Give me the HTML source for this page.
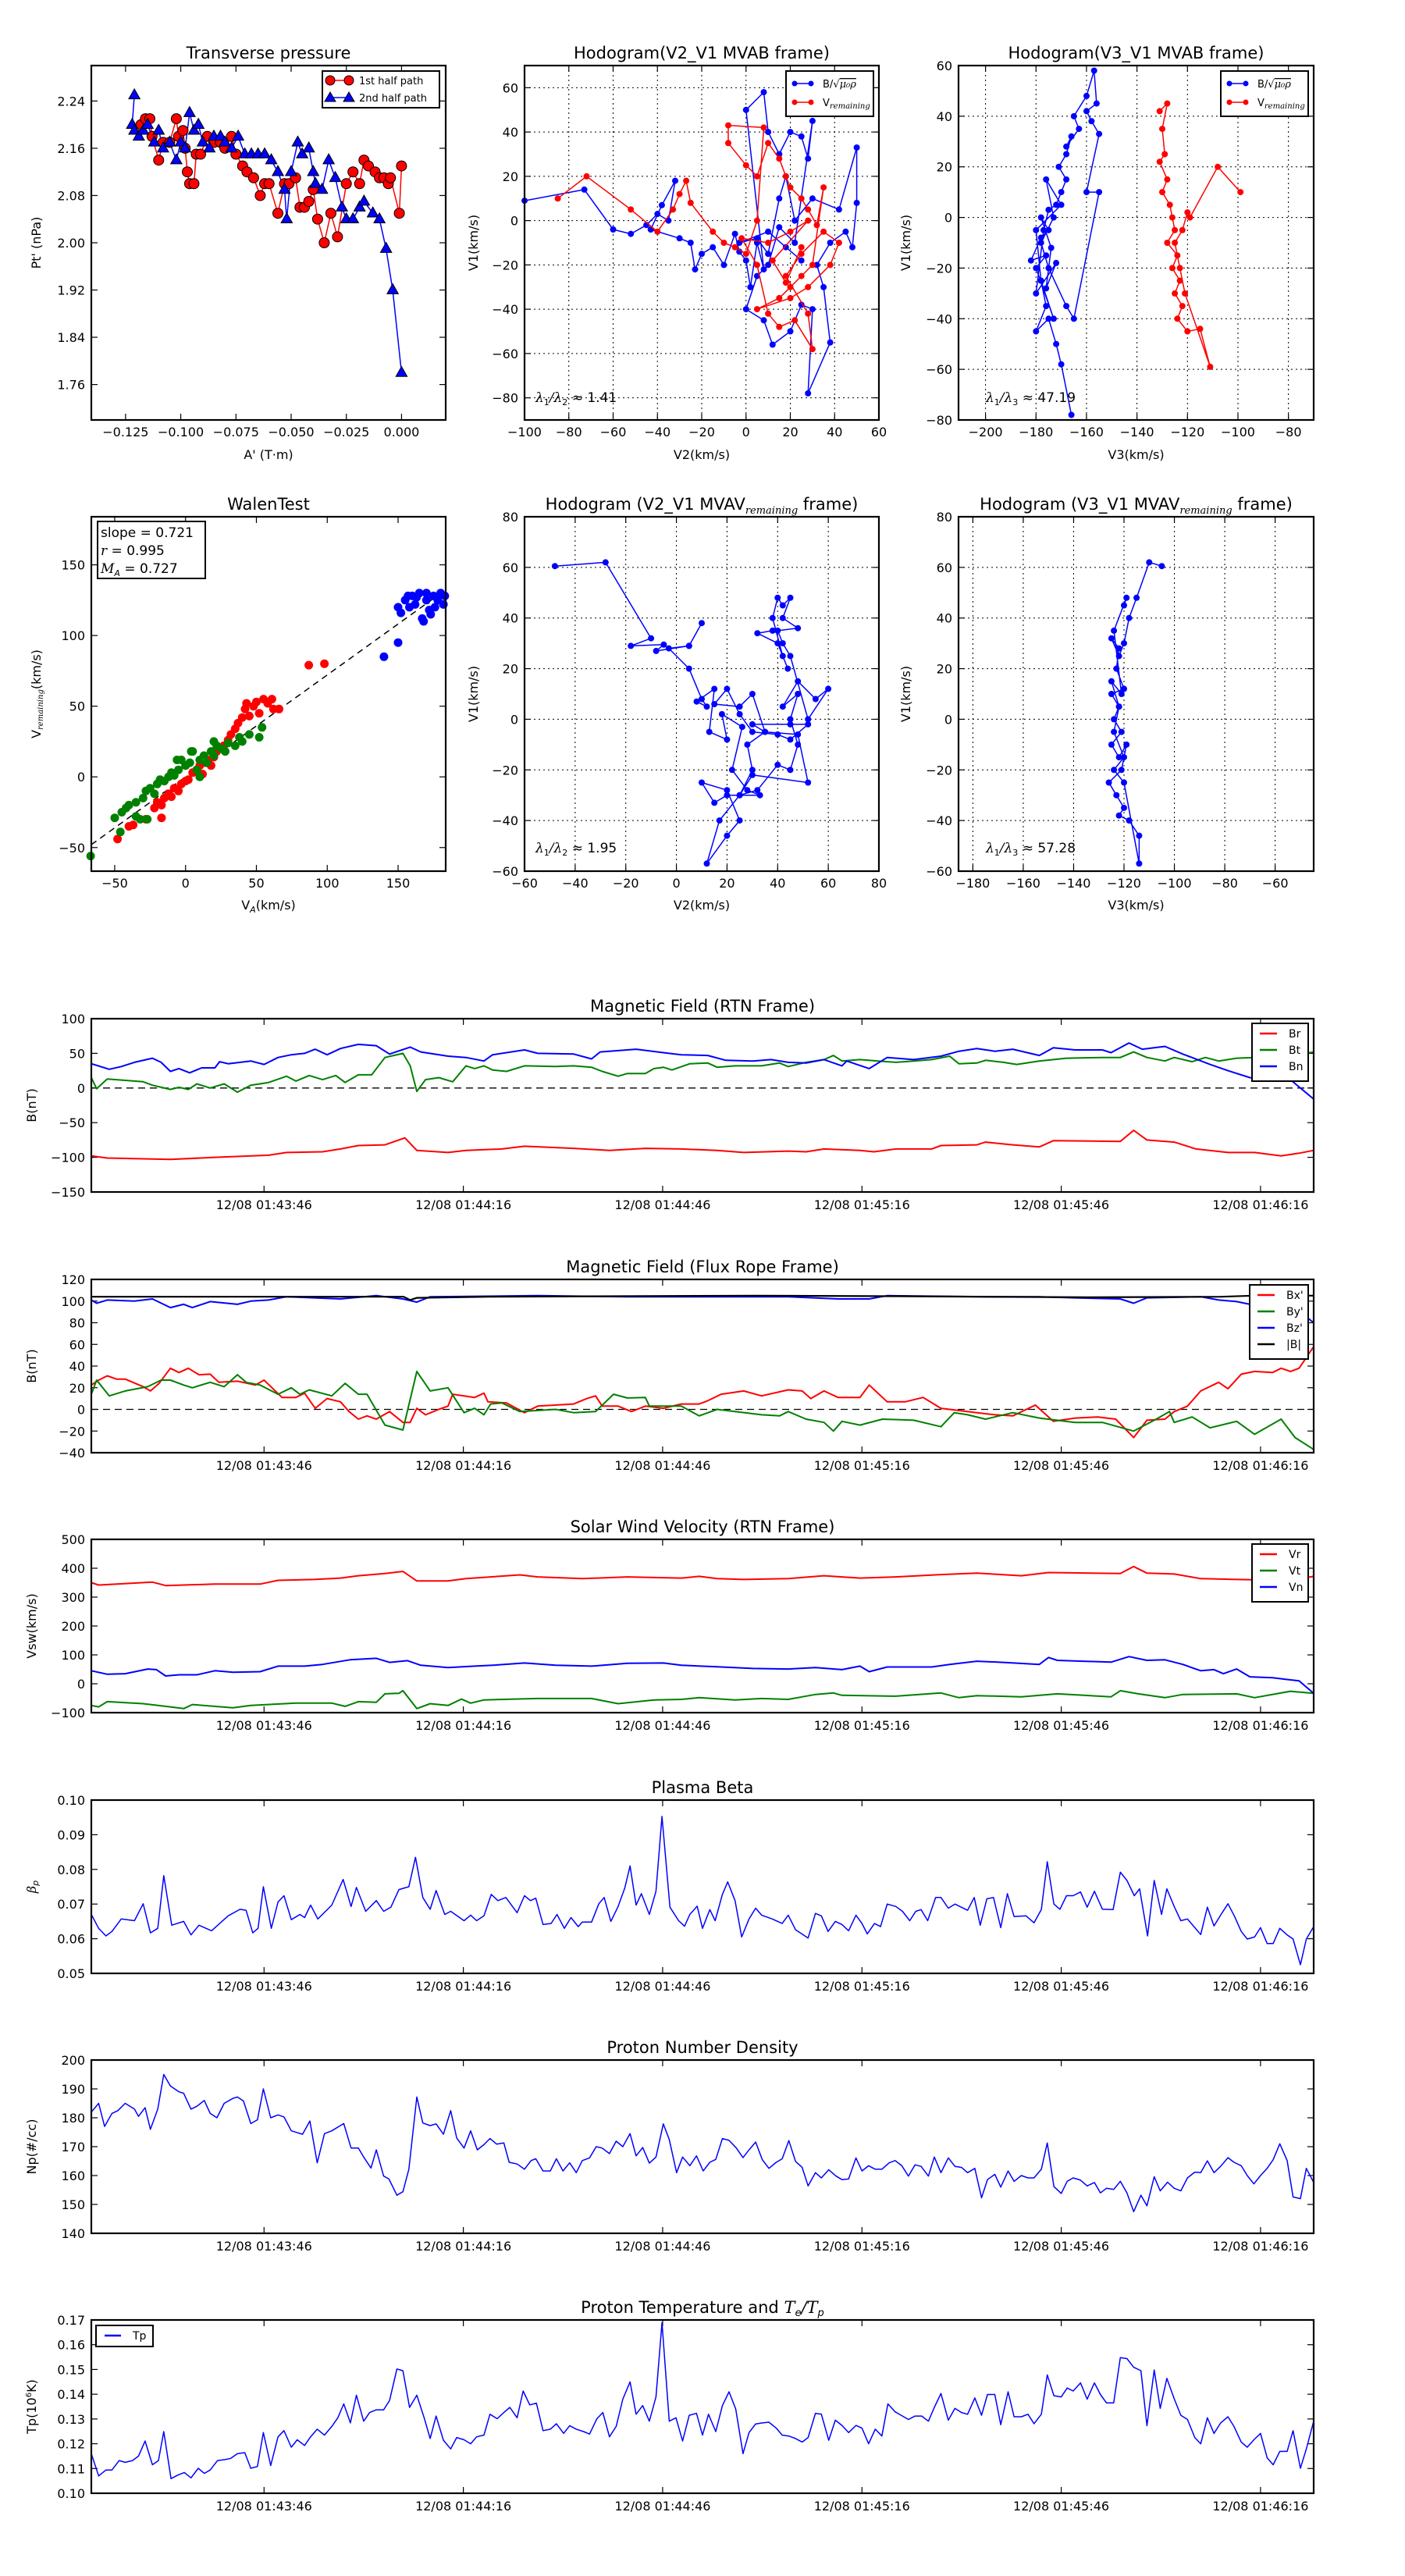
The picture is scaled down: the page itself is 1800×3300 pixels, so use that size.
<!DOCTYPE html>
<html><head><meta charset="utf-8"><title>Flux rope analysis</title>
<style>
html,body{margin:0;padding:0;background:#fff;}
svg{display:block;font-family:"DejaVu Sans","Liberation Sans",sans-serif;}
</style></head>
<body>
<svg id="fig" width="1800" height="3300" viewBox="0 0 1800 3300" xmlns="http://www.w3.org/2000/svg">
<rect x="0" y="0" width="1800" height="3300" fill="#fff"/>
</svg>
<script>
// ---------------- DATA: Transverse pressure ----------------
const ptRedX=[-0.118,-0.116,-0.114,-0.113,-0.110,-0.108,-0.105,-0.102,-0.101,-0.099,-0.098,-0.097,-0.096,-0.094,-0.093,-0.091,-0.088,-0.085,-0.082,-0.080,-0.077,-0.075,-0.072,-0.070,-0.067,-0.064,-0.062,-0.060,-0.056,-0.053,-0.051,-0.048,-0.046,-0.044,-0.042,-0.040,-0.038,-0.035,-0.032,-0.029,-0.025,-0.022,-0.019,-0.017,-0.015,-0.012,-0.010,-0.008,-0.006,-0.005,-0.001,0.000];
const ptRedY=[2.20,2.21,2.21,2.18,2.14,2.17,2.17,2.21,2.18,2.19,2.16,2.12,2.10,2.10,2.15,2.15,2.18,2.17,2.17,2.16,2.18,2.15,2.13,2.12,2.11,2.08,2.10,2.10,2.05,2.10,2.10,2.11,2.06,2.06,2.07,2.09,2.04,2.00,2.05,2.01,2.10,2.12,2.10,2.14,2.13,2.12,2.11,2.11,2.10,2.11,2.05,2.13];
const ptBlueX=[-0.121,-0.122,-0.121,-0.119,-0.117,-0.115,-0.112,-0.110,-0.108,-0.105,-0.102,-0.100,-0.098,-0.096,-0.094,-0.092,-0.090,-0.087,-0.085,-0.082,-0.080,-0.077,-0.074,-0.071,-0.068,-0.065,-0.062,-0.059,-0.056,-0.053,-0.052,-0.050,-0.047,-0.045,-0.042,-0.040,-0.039,-0.036,-0.033,-0.030,-0.027,-0.025,-0.022,-0.019,-0.017,-0.013,-0.010,-0.007,-0.004,0.000];
const ptBlueY=[2.25,2.20,2.19,2.18,2.19,2.20,2.17,2.19,2.16,2.17,2.14,2.17,2.16,2.22,2.19,2.20,2.17,2.16,2.18,2.18,2.17,2.16,2.18,2.15,2.15,2.15,2.15,2.14,2.12,2.09,2.04,2.12,2.17,2.15,2.16,2.12,2.10,2.09,2.14,2.11,2.06,2.04,2.04,2.06,2.07,2.05,2.04,1.99,1.92,1.78];
// ---------------- DATA: Hodogram V2-V1 MVAB ----------------
const h1BlueX=[-100,-73,-60,-52,-45,-40,-35,-32,-38,-43,-30,-25,-23,-20,-15,-10,-5,-3,0,2,5,8,0,8,10,15,20,25,28,30,22,15,10,5,0,8,12,20,25,30,28,38,35,32,38,45,48,50,50,42,30,22,18,15,10,5,-3,10,18,25];
const h1BlueY=[9,14,-4,-6,-2,3,0,18,7,-4,-8,-10,-22,-15,-12,-20,-6,-14,-18,-30,-10,-22,50,58,40,30,40,38,28,45,-10,-3,-20,-25,-40,-45,-56,-50,-38,-40,-78,-55,-30,-20,-10,-5,-12,8,33,5,10,0,20,10,-15,-8,-10,-5,-12,-18];
const h1RedX=[-85,-72,-52,-40,-33,-30,-27,-25,-15,-10,-5,0,5,8,-8,-8,0,5,10,15,18,20,25,28,32,35,30,25,20,15,5,20,28,38,42,35,25,18,28,30,22,15,10,5,-2,10,20,28,12,18,25];
const h1RedY=[10,20,5,-5,5,12,18,8,-5,-10,-12,-15,0,42,43,35,25,20,35,28,20,15,10,5,-2,15,-20,-25,-30,-35,-40,-35,-30,-20,-10,-5,-15,-25,-42,-58,-45,-48,-42,-20,-8,-10,-5,0,-18,-28,-12];
// ---------------- DATA: Hodogram V3-V1 MVAB ----------------
const h2BlueX=[-166,-170,-172,-175,-180,-176,-178,-173,-180,-176,-182,-178,-175,-178,-174,-176,-172,-180,-177,-175,-172,-170,-168,-171,-168,-166,-168,-163,-165,-160,-157,-156,-160,-158,-155,-160,-155,-165,-168,-175,-178,-173,-176,-170,-180,-178];
const h2BlueY=[-78,-58,-50,-40,-45,-35,-25,-40,-20,-15,-17,-8,-5,0,-12,-28,-18,-30,-5,3,5,10,15,20,25,32,28,35,40,48,58,45,42,38,33,10,10,-40,-35,-20,-10,0,15,5,-5,-25];
const h2RedX=[-131,-128,-130,-129,-131,-128,-130,-127,-126,-125,-128,-124,-126,-123,-125,-122,-124,-120,-115,-111,-121,-123,-125,-122,-120,-119,-108,-99];
const h2RedY=[42,45,35,25,22,15,10,5,0,-5,-10,-15,-20,-25,-30,-35,-40,-45,-44,-59,-30,-20,-10,-5,2,0,20,10];
// ---------------- DATA: Walen test ----------------
const walRedX=[-48,-40,-37,-28,-22,-20,-17,-17,-15,-12,-10,-8,-5,-3,0,2,5,8,10,12,14,16,18,20,22,25,27,30,32,35,37,40,42,43,45,48,50,52,55,58,61,62,66,87,98];
const walRedY=[-44,-35,-34,-30,-22,-18,-20,-29,-15,-12,-14,-8,-10,-5,-3,-2,3,5,8,2,10,12,8,14,18,20,22,26,30,34,38,42,48,52,43,50,53,45,55,52,55,48,48,79,80];
const walGreenX=[-67,-50,-46,-45,-42,-40,-35,-35,-32,-30,-27,-28,-25,-22,-20,-18,-15,-12,-10,-8,-6,-5,-3,0,3,4,5,8,10,10,13,15,18,20,20,22,25,28,30,35,38,40,45,52,54];
const walGreenY=[-56,-29,-39,-25,-22,-20,-28,-18,-30,-15,-30,-10,-8,-12,-5,-2,-3,0,3,1,12,5,12,8,10,18,18,5,12,0,15,10,18,15,25,22,20,18,24,22,28,25,30,28,35];
const walBlueX=[140,150,150,152,155,157,158,160,162,163,165,167,168,170,170,172,173,175,176,178,180,182,183];
const walBlueY=[85,95,120,116,125,128,120,128,122,127,130,112,110,125,130,118,115,128,120,125,130,122,128];
// ---------------- DATA: Hodograms MVAV ----------------
const h3X=[-48,-28,-10,-18,-5,-8,5,10,5,-3,5,10,12,8,15,13,20,18,26,22,28,33,20,15,10,20,25,20,12,17,25,30,28,35,30,45,52,45,40,30,25,20,15,25,30,35,48,52,30,25,32,40,45,48,45,48,42,48,55,60,52,45,42,40,48,42,45,42,40,38,42,44,40,32,38];
const h3Y=[60.5,62,32,29,29.5,27,29,38,29,28,20,8,5,7,12,-5,-8,2,-3,-20,-28,-30,-30,-33,-25,-28,-40,-46,-57,-40,-30,-20,-10,-5,-2,-2,-2,-8,-6,-5,2,12,6,5,10,-5,-6,-25,-22,-30,-28,-18,-20,-10,0,10,5,15,8,12,0,25,30,35,36,40,48,45,48,40,25,20,30,34,35];
const h4X=[-105,-110,-115,-118,-120,-122,-125,-122,-123,-120,-125,-122,-124,-121,-125,-122,-119,-121,-126,-123,-120,-122,-118,-114,-114,-120,-124,-120,-124,-122,-125,-121,-124,-119,-120];
const h4Y=[60.5,62,48,40,30,25,32,28,20,12,10,5,0,-5,-10,-15,-10,-20,-25,-30,-35,-38,-40,-46,-57,-25,-20,-15,-5,5,15,10,35,48,45];
// ---------------- DATA: time series (t in s after 12/08 01:43:20) ----------------
const timeTickT=[26,56,86,116,146,176];
const timeTickLabels=["12/08 01:43:46","12/08 01:44:16","12/08 01:44:46","12/08 01:45:16","12/08 01:45:46","12/08 01:46:16"];
const brT=[0,2.4,11.9,18.6,26.7,29.4,34.8,37.5,40.2,44.2,47.2,49.0,53.7,56.4,61.8,65.2,72.6,78.0,83.4,88.8,94.2,98.2,104.9,107.6,110.3,115.7,117.8,121.1,126.5,127.9,133.3,134.6,138.7,142.7,144.8,154.9,156.9,158.9,163.0,166.3,171.1,175.1,179.1,181.8,184];
const brV=[-98,-101,-103,-100,-97,-93,-92,-88,-83,-82,-72,-90,-93,-90,-88,-84,-87,-90,-87,-88,-90,-93,-91,-92,-88,-90,-92,-88,-88,-83,-82,-78,-82,-85,-76,-77,-61,-75,-78,-88,-93,-93,-98,-94,-90];
const btT=[0,0.8,2.4,7.8,9.2,11.9,13.2,14.6,15.9,17.9,20.0,22.0,24.0,26.7,29.4,30.8,32.8,34.8,36.8,38.2,40.2,42.2,44.2,46.9,48.0,49.0,50.3,52.3,54.4,56.4,57.7,59.1,60.4,62.5,65.2,69.9,72.6,75.3,76.9,79.3,80.7,83.4,84.7,86.1,87.4,90.1,92.8,94.2,96.9,100.9,103.6,104.9,107.6,110.3,111.7,113.0,115.7,118.4,121.1,123.8,126.5,129.2,130.6,133.3,134.6,137.3,139.3,142.7,146.8,152.2,154.9,156.9,158.9,161.6,163.0,165.7,167.7,169.7,172.4,175.1,180.5,184];
const btV=[15,-1,13,9,4,-2,1,-2,6,0,6,-6,4,8,17,10,18,12,18,8,19,19,44,50,32,-5,12,15,9,32,28,32,26,24,32,31,32,30,24,17,21,21,28,30,26,35,36,30,32,32,36,31,37,41,47,39,41,39,37,39,41,46,35,36,40,37,34,39,43,44,44,52,44,39,44,38,44,39,43,44,46,52];
const bnT=[0,2.7,4.5,6.5,9.2,10.5,11.9,13.2,14.8,16.6,18.6,19.3,20.6,24.0,26.0,28.1,30.1,32.1,33.7,35.5,37.5,40.2,42.9,44.9,48.0,49.6,53.7,56.4,59.1,60.4,65.2,67.2,72.6,75.3,76.6,82.0,86.1,88.8,92.8,95.5,99.6,102.3,104.9,107.6,110.3,113.0,113.7,117.1,119.8,123.8,127.9,130.6,133.3,136.0,138.7,142.7,144.8,148.1,152.2,153.5,156.2,158.2,161.6,164.3,168.4,171.1,174.4,180.5,184];
const bnV=[35,27,31,37,43,37,24,28,22,29,29,38,35,39,34,44,48,50,56,48,57,63,61,49,59,52,46,44,39,48,55,50,49,42,52,56,51,48,47,40,39,41,37,36,41,32,39,28,44,41,46,53,57,53,56,47,58,55,55,51,65,56,60,49,34,25,15,12,-16];
const bmagT=[0,20,47,48,49,60,100,120,150,170,175,180,184];
const bmagV=[104,104,104,101,103,104,105,104.5,103.5,104,105,105,105];
const bzT=[0,0.8,2.4,6.5,9.2,11.9,13.9,15.2,17.9,22.0,24.0,26.7,29.4,37.5,42.9,46.9,49.0,51.0,67.2,80.7,104.9,112.4,117.1,119.8,134.6,142.7,148.1,154.9,156.9,158.9,167.0,169.7,172.4,174.4,180.5,184];
const bzV=[101,98,101,100,102,94,97,94,99.5,97,100,101,104,102,105,102,99,104,105,104,104,102,102,105,104,104,103,102,98,103,104,101,99.5,97,97,80];
const bxT=[0,1.1,2.4,3.8,5.1,7.8,8.9,10.2,11.9,13.2,14.6,16.2,17.9,19.2,22.0,24.7,26.0,28.7,30.8,32.1,33.7,35.5,37.5,38.8,40.2,41.5,42.9,44.9,46.9,48.0,49.0,50.3,52.3,53.7,54.4,57.7,59.1,59.7,62.5,65.2,67.2,72.6,74.6,75.9,76.9,79.3,81.3,83.4,86.1,88.8,91.5,92.8,94.8,98.2,100.9,104.9,107.0,108.3,110.3,112.4,115.7,117.1,119.8,122.5,125.2,127.9,133.3,136.0,138.7,142.1,144.8,148.1,151.5,154.2,156.9,158.9,161.6,163.0,165.0,167.0,169.7,171.1,173.1,175.1,177.8,179.1,180.5,181.8,184];
const bxV=[22.5,27,31,28,28,21,17,24,38,34,38,32,32.5,25,26,22.5,27,11,11,15,1,10,7,-2,-9,-6,-9,-2,-12,-12,1,-5,0,3,14,11,15,7,6,-3,3,5,10,12.5,3,3,-2,3,1,5,5,8,14,17,12.5,18,17,10,17,11,11,22.5,7,7,11,1,-3,-5,-6,4,-11,-8,-7,-9,-26,-10,-9,-2,3,17,25,19,32.5,35,34,38,35,38,58];
const byT=[0,0.8,2.7,5.1,8.5,10.5,11.9,13.9,15.2,17.9,20.0,22.0,23.3,25.4,28.1,30.1,31.4,32.8,36.2,38.2,40.2,41.5,44.2,46.9,49.0,51.0,53.7,56.1,57.7,59.1,60.1,61.8,64.5,69.9,72.6,75.9,78.6,80.7,83.4,84.0,88.8,91.5,94.2,96.9,100.9,103.6,104.9,107.6,110.3,111.7,113.0,115.7,119.1,123.8,127.9,129.9,131.9,134.6,138.7,142.7,148.1,152.2,156.9,160.3,162.3,163.0,165.7,168.4,172.4,175.1,179.1,181.2,184];
const byV=[14,27,12.5,17,21,27,27,22.5,20,25,21,32,25,22.5,14,20,14,18,12.5,24,14,14,-14.5,-19,35,17,20,-3,1,-5,5,6,-2,0,-3,-2,14,10.5,11,3,3,-6,0,-2,-5,-6,-2,-9,-12,-20,-11,-14.5,-9,-10,-16,-3,-5,-9,-3,-8,-12,-12,-20,-9,-2,-12,-7,-17,-11,-23,-9,-26,-37];
const vrT=[0,1.1,9.2,11.2,18.6,25.4,28.1,33.5,37.5,40.2,44.2,46.9,49.0,53.7,56.4,64.5,67.2,73.9,80.7,88.8,91.5,94.2,98.2,104.9,110.3,115.7,121.1,127.9,133.3,140.0,144.1,154.9,156.9,158.9,163.0,167.0,172.4,180.5,184];
const vrV=[350,342,352,340,345,345,358,361,366,374,382,389,356,356,364,377,370,364,370,366,372,364,361,364,374,366,370,378,383,374,385,382,406,383,380,364,361,358,372];
const vtT=[0,1.1,2.4,7.8,11.9,13.9,15.2,21.3,24.0,30.8,36.2,38.2,40.2,42.9,44.2,46.3,46.9,49.0,51.0,53.7,55.7,57.1,59.1,67.2,75.3,79.3,84.7,88.8,91.5,96.9,100.9,104.9,109.0,111.7,113.0,121.1,127.9,130.6,133.3,140.0,145.4,153.5,154.9,157.6,161.6,164.3,172.4,175.1,180.5,184];
const vtV=[-75,-80,-62,-69,-80,-86,-72,-83,-75,-67,-67,-78,-62,-64,-35,-33,-24,-86,-69,-75,-53,-67,-56,-51,-51,-69,-56,-54,-48,-56,-51,-54,-37,-32,-40,-43,-32,-48,-41,-45,-35,-45,-24,-35,-48,-37,-35,-48,-26,-33];
const vnT=[0,2.4,5.1,8.5,9.8,11.2,13.2,15.9,18.6,21.3,25.4,28.1,32.1,34.8,38.9,42.9,44.9,47.6,49.6,53.7,57.7,60.4,65.2,69.9,75.3,80.7,86.1,88.8,94.2,99.6,104.9,109.0,113.0,115.7,117.1,119.8,126.5,129.2,133.3,137.3,142.7,144.1,145.4,153.5,156.2,158.9,161.6,164.3,167.0,169.0,170.4,172.4,174.4,177.8,181.8,184];
const vnV=[45,33,35,51,49,27,31,31,45,40,42,61,61,67,83,88,74,80,64,56,61,64,72,64,61,71,72,64,59,53,51,56,49,61,42,58,58,67,78,74,67,91,81,75,94,81,83,67,45,49,35,51,24,21,10,-33];
const betaT=[0,1.1,2.2,3.1,4.5,6.5,7.8,8.9,10,10.9,12.1,13.9,15,16.2,18.1,20.6,22.4,23.3,24.3,25.1,25.9,27.1,28.1,29,30.1,31.4,32.1,33,34.1,36.2,37.9,39.1,39.9,41.3,42.9,44,45.1,46.3,47.8,48.8,49.9,51,51.9,53.2,54.1,56.1,57.1,58,59.1,60.2,61.2,62.4,64.1,65.2,66.1,66.9,68,69.2,70.1,71.2,72.2,73.3,73.9,75.3,76.4,77.2,78.2,79.3,80.3,81.1,82,82.8,84,85,85.9,87.1,88.4,89.3,90.1,91.2,92,93.1,93.9,95,95.8,96.9,97.9,99,100,100.9,102.5,104,104.9,106,107.9,109,109.9,110.9,112,113,114,115.1,116,116.8,117.9,118.8,119.8,121.1,122.1,123.2,124.1,124.9,125.9,127.1,127.9,129,130,131.9,132.9,133.8,134.8,135.8,136.9,137.9,138.9,140.7,141.9,143,143.9,144.9,145.8,146.8,147.8,148.9,149.9,151,152.2,153.8,154.9,155.9,157,157.8,159,160,161.1,161.9,163,164,165,166.1,167,168,169,170,171.1,172.1,173.1,174,175.1,176,177,177.9,178.9,180,180.9,182,182.9,184];
const betaV=[0.0670,0.0630,0.0608,0.0621,0.0657,0.0652,0.0701,0.0617,0.0630,0.0782,0.0639,0.0650,0.0611,0.0639,0.0623,0.0666,0.0685,0.0682,0.0617,0.0630,0.0750,0.0630,0.0706,0.0724,0.0655,0.0670,0.0661,0.0697,0.0657,0.0697,0.0771,0.0693,0.0748,0.0679,0.0710,0.0679,0.0691,0.0742,0.0750,0.0835,0.0719,0.0685,0.0739,0.0670,0.0679,0.0652,0.0668,0.0652,0.0666,0.0728,0.0710,0.0719,0.0675,0.0724,0.0710,0.0717,0.0641,0.0644,0.0670,0.0630,0.0661,0.0635,0.0648,0.0648,0.0701,0.0719,0.0650,0.0693,0.0746,0.0810,0.0697,0.0730,0.0670,0.0737,0.0953,0.0691,0.0652,0.0636,0.0670,0.0694,0.0630,0.0684,0.0652,0.0728,0.0764,0.0710,0.0605,0.0657,0.0688,0.0668,0.0657,0.0644,0.0668,0.0626,0.0602,0.0673,0.0666,0.0621,0.0650,0.0641,0.0623,0.0668,0.0644,0.0614,0.0644,0.0635,0.0700,0.0693,0.0679,0.0652,0.0679,0.0684,0.0652,0.0719,0.0719,0.0688,0.0700,0.0682,0.0719,0.0639,0.0715,0.0719,0.0632,0.0730,0.0664,0.0666,0.0646,0.0684,0.0822,0.0700,0.0685,0.0724,0.0724,0.0735,0.0691,0.0737,0.0685,0.0684,0.0792,0.0768,0.0724,0.0744,0.0608,0.0768,0.0670,0.0744,0.0693,0.0652,0.0657,0.0632,0.0612,0.0691,0.0637,0.0668,0.0701,0.0664,0.0621,0.0599,0.0605,0.0632,0.0586,0.0586,0.0630,0.0611,0.0599,0.0525,0.0599,0.0635];
const npT=[0,1.1,2.0,3.1,4.0,5.1,6.5,7.1,8.1,8.9,10,10.9,11.9,13.2,13.9,15,15.9,17,17.9,18.9,20,21.3,22,22.9,24,25,25.9,27,28.1,29,30.1,31.8,32.9,34,35.1,36.2,38,39.1,40.2,41,42.1,42.9,44,44.8,46,46.9,47.8,49,49.9,51,51.9,53,54.1,55,56.1,57.1,58.1,59.1,60,61,62.1,62.9,64.1,65.2,66.2,66.9,68,69.1,70,71,72,73,73.9,75,76,76.9,78,79,80,81.1,82,83,84,85,86.1,87,88.1,89,90.1,91.1,92.1,93.1,94,95,96,97.1,98.1,99,100,101,102,103.1,104,105,106,107,107.9,109,109.9,111,112.1,113,114,115.1,116,117,118,119,120.1,121,122,123,124,124.9,126,126.9,127.9,129,130,131,131.9,133,134,134.9,136,136.9,138,138.9,140,141,141.9,143,143.9,144.9,146,146.9,147.8,148.9,149.9,151,151.9,152.8,153.9,154.9,155.9,156.9,158,158.9,160,160.9,162,163,164,165,166.1,167,168,169,170,171.1,172,173.1,174,175,176,177,177.9,178.9,180,180.9,182,182.9,184];
const npV=[182,185,177,181.5,182.5,185,183,180.5,183.5,176,183,195,191,189,188.5,183,184,186,181.5,180,185,186.7,187.2,185.8,178,179.3,190,180,181,180.3,175.5,174.3,178.9,164.4,174.5,175.5,178,169.5,169.5,166.4,162.6,168.9,159.8,158.8,153.2,154.4,162.2,187.2,178.2,177.3,177.9,174.3,182.5,173,169.5,175.5,168.9,170.7,172.8,170.9,171.3,164.6,164,162.2,165.2,165.8,161.6,161.6,165.8,161.6,164.4,161,165.2,166.1,170,169.5,167.6,171.9,170,174.5,166.8,169.7,164.3,166.4,177.9,172.5,161,166.4,163.4,166.8,161.6,164.6,165.6,172.8,172.2,169.5,166.2,168.9,171.6,165.5,162.5,164.6,165.8,172.1,164.9,162.8,156.4,161,159.2,162,159.8,158.6,158.8,166.1,161.6,163.4,162.2,162.2,164.4,165.2,163.4,159.8,163.7,163.2,159.8,166.4,161,166.1,163.2,162.8,161,162.5,152.3,158.6,160.4,156,161.6,158,160,159.2,159.2,162.2,171.3,156.2,153.8,158,159.2,158.4,156.4,157.6,154,155.6,155.2,158,154,147.5,153.2,149.5,159.6,154.7,157.7,155.6,154.7,159.2,161.2,161,165.1,161,163.2,166.2,164.6,163.4,160,157.1,160,162.5,165.5,171,165.2,152.6,152,162.5,157.6];
const tpT=[0,1.1,2.2,3.1,4.2,5.1,6.2,7.1,8.1,9.2,10.1,10.9,12,13,14,15,16.1,17,17.9,19,20.1,21,22,23.1,24,25,25.9,27,28.1,29,30.1,31,32.1,33,34,35.1,36.2,37.1,38,39,39.9,41,41.9,42.9,44,44.9,46,46.9,47.9,49,50.1,51,51.9,53,54.1,55,56.1,57.1,58,59.1,60,61.1,62.1,63,64.1,65,66,67,68,69.1,70,71.1,72,73,74.1,75,76.1,77,78,79,80,81.1,82,83,84,85,85.9,87,88,89,90,91.1,92,92.9,94,95,96,97,98.1,99,100,101,102,103.1,104,105,106,107,107.9,109,109.9,111,112,113,114,115.1,116,117,118,119,119.9,121,121.9,123,124,125,126,126.9,127.9,129,130,131,131.9,133,134,134.9,136,136.9,138,138.9,140,141,141.9,143,143.9,144.9,146,146.9,147.8,148.9,149.9,151,151.9,152.8,153.9,154.9,155.9,156.9,158,158.9,160,160.9,161.9,163,164,165,166.1,167,168,169,170,171.1,172,173.1,174,175,176,177,177.9,178.9,180,180.9,182,182.9,184];
const tpV=[0.116,0.107,0.1094,0.1094,0.1132,0.1125,0.1132,0.115,0.1211,0.1115,0.1132,0.1249,0.1059,0.1073,0.1084,0.1062,0.1101,0.108,0.1094,0.1132,0.1136,0.1141,0.116,0.1164,0.1101,0.1108,0.1245,0.1112,0.1228,0.1253,0.1186,0.1216,0.1193,0.1228,0.1259,0.1235,0.127,0.1305,0.1361,0.1284,0.1396,0.1291,0.1326,0.1337,0.1337,0.1375,0.1502,0.1495,0.1347,0.1396,0.1305,0.1221,0.1312,0.1214,0.1179,0.1225,0.1216,0.12,0.1228,0.1235,0.1319,0.1301,0.1326,0.1347,0.1305,0.1413,0.1357,0.1364,0.1253,0.1259,0.1281,0.1242,0.1273,0.1259,0.1249,0.1239,0.1301,0.1326,0.1228,0.127,0.138,0.145,0.1319,0.1354,0.1291,0.1389,0.1689,0.1291,0.1305,0.1211,0.1315,0.1323,0.1235,0.1319,0.1249,0.1354,0.141,0.134,0.116,0.1245,0.128,0.1284,0.1287,0.1263,0.1235,0.1231,0.1221,0.1207,0.1225,0.1323,0.1319,0.1214,0.1295,0.1274,0.1245,0.1274,0.1263,0.12,0.1259,0.1231,0.1361,0.1329,0.1315,0.1298,0.1312,0.1312,0.1291,0.1347,0.1403,0.1295,0.1343,0.1326,0.1319,0.1385,0.1315,0.1399,0.1399,0.1277,0.141,0.1309,0.1309,0.1319,0.1281,0.1319,0.1478,0.1394,0.1389,0.1425,0.1413,0.1446,0.138,0.1446,0.1399,0.1365,0.1365,0.1548,0.1544,0.1509,0.1495,0.1273,0.1498,0.1343,0.1464,0.1382,0.1315,0.1298,0.1225,0.12,0.1305,0.1242,0.1284,0.1309,0.127,0.1207,0.1186,0.1216,0.1242,0.1143,0.1115,0.1169,0.1169,0.1253,0.1101,0.1179,0.1291];

// ---------------- helpers ----------------
const NS='http://www.w3.org/2000/svg';
const svg=document.getElementById('fig');
function mk(tag,attrs,parent,name,inter){
  const e=document.createElementNS(NS,tag);
  for(const k in attrs){e.setAttribute(k,attrs[k]);}
  
  
  (parent||svg).appendChild(e);
  return e;
}
function txt(x,y,s,size,anchor,parent,name,extra){
  const a={x:x,y:y,'font-size':size,'text-anchor':anchor||'middle',fill:'#000'};
  if(extra){for(const k in extra)a[k]=extra[k];}
  const t=mk('text',a,parent,name,false);
  t.textContent=s;
  return t;
}
function fmtMinus(s){return String(s).replace('-','\u2212');}
function lin(d0,d1,r0,r1){return v=>r0+(v-d0)*(r1-r0)/(d1-d0);}

function axes(o){
  const g=mk('g',{},svg,o.name,false);
  const sx=lin(o.xd[0],o.xd[1],o.x,o.x+o.w);
  const sy=lin(o.yd[0],o.yd[1],o.y+o.h,o.y);
  const gridG=mk('g',{},g,o.name+'-grid',false);
  const tickG=mk('g',{stroke:'#000','stroke-width':1.2},g,o.name+'-ticks',false);
  const labG=mk('g',{},g,o.name+'-tick-labels',false);
  const fs=o.fs||16;
  o.xt.forEach((v,i)=>{
    const X=sx(v);
    if(o.grid){mk('line',{x1:X,y1:o.y,x2:X,y2:o.y+o.h,stroke:'#000','stroke-width':1,'stroke-dasharray':'2,4'},gridG,'x-gridline',false);}
    mk('line',{x1:X,y1:o.y+o.h,x2:X,y2:o.y+o.h-8},tickG,'x-tick',false);
    mk('line',{x1:X,y1:o.y,x2:X,y2:o.y+8},tickG,'x-tick',false);
    if(o.xl) txt(X,o.y+o.h+(o.xlo||20),o.xl[i],fs,'middle',labG,'x-tick-label');
  });
  o.yt.forEach((v,i)=>{
    const Y=sy(v);
    if(o.grid){mk('line',{x1:o.x,y1:Y,x2:o.x+o.w,y2:Y,stroke:'#000','stroke-width':1,'stroke-dasharray':'2,4'},gridG,'y-gridline',false);}
    mk('line',{x1:o.x,y1:Y,x2:o.x+8,y2:Y},tickG,'y-tick',false);
    mk('line',{x1:o.x+o.w,y1:Y,x2:o.x+o.w-8,y2:Y},tickG,'y-tick',false);
    txt(o.x-8,Y+6,o.yl[i],fs,'end',labG,'y-tick-label');
  });
  const plot=mk('g',{},g,o.name+'-plot-area',false);
  mk('rect',{x:o.x,y:o.y,width:o.w,height:o.h,fill:'none',stroke:'#000','stroke-width':2.2},g,o.name+'-frame',false);
  if(o.title) txt(o.x+o.w/2,o.y-9,o.title,o.tfs||21,'middle',g,'chart-title');
  return {g:g,plot:plot,sx:sx,sy:sy};
}
function polyline(ax,xs,ys,color,w,name,clip){
  const n=Math.min(xs.length,ys.length);
  let p=[];
  for(let i=0;i<n;i++){p.push(ax.sx(xs[i]).toFixed(1)+','+ax.sy(ys[i]).toFixed(1));}
  return mk('polyline',{points:p.join(' '),fill:'none',stroke:color,'stroke-width':w,'stroke-linejoin':'round'},ax.plot,name,false);
}
function dots(ax,xs,ys,color,r,name,stroke){
  const n=Math.min(xs.length,ys.length);
  for(let i=0;i<n;i++){
    const c=mk('circle',{cx:ax.sx(xs[i]).toFixed(1),cy:ax.sy(ys[i]).toFixed(1),r:r,fill:color,stroke:stroke||'none','stroke-width':1},ax.plot,name,false);
  }
}
function tris(ax,xs,ys,color,s,name){
  const n=Math.min(xs.length,ys.length);
  for(let i=0;i<n;i++){
    const X=ax.sx(xs[i]),Y=ax.sy(ys[i]);
    mk('polygon',{points:(X)+','+(Y-s)+' '+(X-s*0.9)+','+(Y+s*0.6)+' '+(X+s*0.9)+','+(Y+s*0.6),fill:color,stroke:'#000','stroke-width':1},ax.plot,name,false);
  }
}
function range(a,b,s){const r=[];for(let v=a;v<=b+1e-9;v+=s)r.push(+v.toFixed(4));return r;}
function ylabel(x,cy,s,parent,name){
  const t=txt(x,cy,'',16,'middle',parent||svg,name,{transform:'rotate(-90 '+x+' '+cy+')'});
  t.textContent=s;return t;
}

// ---------------- Row 1 ----------------
const R1={y:84,h:454};
const C1={x:117,w:454}, C2={x:672,w:454}, C3={x:1228,w:455};

// Transverse pressure
(function(){
  const xt=[-0.125,-0.1,-0.075,-0.05,-0.025,0];
  const xl=['\u22120.125','\u22120.100','\u22120.075','\u22120.050','\u22120.025','0.000'];
  const yt=[1.76,1.84,1.92,2.00,2.08,2.16,2.24];
  const yl=['1.76','1.84','1.92','2.00','2.08','2.16','2.24'];
  const ax=axes({name:'transverse-pressure-chart',x:C1.x,y:R1.y,w:C1.w,h:R1.h,xd:[-0.1405,0.02],yd:[1.70,2.30],xt:xt,xl:xl,yt:yt,yl:yl,title:'Transverse pressure',xlo:21});
  polyline(ax,ptRedX,ptRedY,'#f00',1.5,'first-half-path-line');
  polyline(ax,ptBlueX,ptBlueY,'#00f',1.5,'second-half-path-line');
  dots(ax,ptRedX,ptRedY,'#f00',6.5,'first-half-path-point','#000');
  tris(ax,ptBlueX,ptBlueY,'#00f',8,'second-half-path-point');
  txt(C1.x+C1.w/2,588,"A' (T\u00b7m)",16,'middle',ax.g,'x-axis-title');
  ylabel(52,R1.y+R1.h/2,"Pt' (nPa)",ax.g,'y-axis-title');
  const lg=mk('g',{},ax.g,'legend',false);
  mk('rect',{x:413,y:91,width:150,height:47,fill:'#fff',stroke:'#000','stroke-width':2},lg,'legend-box',false);
  mk('line',{x1:422,y1:103,x2:448,y2:103,stroke:'#f00','stroke-width':1.5},lg,'legend-line-first-half',false);
  mk('circle',{cx:423,cy:103,r:6,fill:'#f00',stroke:'#000'},lg,'legend-marker-first-half',false);
  mk('circle',{cx:447,cy:103,r:6,fill:'#f00',stroke:'#000'},lg,'legend-marker-first-half',false);
  txt(460,108,'1st half path',13,'start',lg,'legend-entry-first-half');
  mk('line',{x1:422,y1:125,x2:448,y2:125,stroke:'#00f','stroke-width':1.5},lg,'legend-line-second-half',false);
  mk('polygon',{points:'423,118 416,130 430,130',fill:'#00f',stroke:'#000'},lg,'legend-marker-second-half',false);
  mk('polygon',{points:'447,118 440,130 454,130',fill:'#00f',stroke:'#000'},lg,'legend-marker-second-half',false);
  txt(460,130,'2nd half path',13,'start',lg,'legend-entry-second-half');
})();

function hodoLegend(parent,x,y,w){
  const lg=mk('g',{},parent,'legend',false);
  mk('rect',{x:x,y:y,width:w,height:58,fill:'#fff',stroke:'#000','stroke-width':2},lg,'legend-box',false);
  mk('line',{x1:x+10,y1:y+16,x2:x+33,y2:y+16,stroke:'#00f','stroke-width':1.5},lg,'legend-line-b',false);
  mk('circle',{cx:x+11,cy:y+16,r:3.5,fill:'#00f'},lg,'legend-marker-b',false);
  mk('circle',{cx:x+32,cy:y+16,r:3.5,fill:'#00f'},lg,'legend-marker-b',false);
  const t1=txt(x+47,y+21,'B/\u221a',13,'start',lg,'legend-entry-b');
  const ts=mk('tspan',{'font-style':'italic','font-family':'DejaVu Serif, serif','text-decoration':'overline'},t1,'legend-entry-b-sqrt',false);
  ts.textContent='\u03bc\u2080\u03c1';
  mk('line',{x1:x+10,y1:y+40,x2:x+33,y2:y+40,stroke:'#f00','stroke-width':1.5},lg,'legend-line-v',false);
  mk('circle',{cx:x+11,cy:y+40,r:3.5,fill:'#f00'},lg,'legend-marker-v',false);
  mk('circle',{cx:x+32,cy:y+40,r:3.5,fill:'#f00'},lg,'legend-marker-v',false);
  const t2=txt(x+47,y+45,'V',13,'start',lg,'legend-entry-v');
  const s2=mk('tspan',{'font-size':10,'font-style':'italic','font-family':'DejaVu Serif, serif',dy:3},t2,'legend-entry-v-sub',false);
  s2.textContent='remaining';
}
function lamText(parent,x,y,a,b,val){
  const t=txt(x,y,'',17,'start',parent,'eigenvalue-ratio-label');
  const s1=mk('tspan',{'font-style':'italic','font-family':'DejaVu Serif, serif'},t,'lambda',false);s1.textContent='\u03bb';
  const s2=mk('tspan',{'font-size':11,dy:4},t,'lambda-sub',false);s2.textContent=a;
  const s3=mk('tspan',{dy:-4,'font-style':'italic','font-family':'DejaVu Serif, serif'},t,'lambda',false);s3.textContent='/\u03bb';
  const s4=mk('tspan',{'font-size':11,dy:4},t,'lambda-sub',false);s4.textContent=b;
  const s5=mk('tspan',{dy:-4},t,'ratio-value',false);s5.textContent=' \u2248 '+val;
}

// Hodogram V2_V1 MVAB
(function(){
  const xt=range(-100,60,20), yt=range(-80,60,20);
  const ax=axes({name:'hodogram-v2-v1-mvab',x:C2.x,y:R1.y,w:C2.w,h:R1.h,xd:[-100,60],yd:[-90,70],xt:xt,xl:xt.map(fmtMinus),yt:yt,yl:yt.map(fmtMinus),grid:true,title:'Hodogram(V2_V1 MVAB frame)',xlo:21});
  polyline(ax,h1BlueX,h1BlueY,'#00f',1.5,'b-alfven-line');
  dots(ax,h1BlueX,h1BlueY,'#00f',4,'b-alfven-point');
  polyline(ax,h1RedX,h1RedY,'#f00',1.5,'v-remaining-line');
  dots(ax,h1RedX,h1RedY,'#f00',4,'v-remaining-point');
  lamText(ax.g,686,515,'1','2','1.41');
  txt(C2.x+C2.w/2,588,'V2(km/s)',16,'middle',ax.g,'x-axis-title');
  ylabel(612,R1.y+R1.h/2,'V1(km/s)',ax.g,'y-axis-title');
  hodoLegend(ax.g,1007,91,112);
})();
// Hodogram V3_V1 MVAB
(function(){
  const xt=range(-200,-80,20), yt=range(-80,60,20);
  const ax=axes({name:'hodogram-v3-v1-mvab',x:C3.x,y:R1.y,w:C3.w,h:R1.h,xd:[-210.7,-70],yd:[-80,60],xt:xt,xl:xt.map(fmtMinus),yt:yt,yl:yt.map(fmtMinus),grid:true,title:'Hodogram(V3_V1 MVAB frame)',xlo:21});
  polyline(ax,h2BlueX,h2BlueY,'#00f',1.5,'b-alfven-line');
  dots(ax,h2BlueX,h2BlueY,'#00f',4,'b-alfven-point');
  polyline(ax,h2RedX,h2RedY,'#f00',1.5,'v-remaining-line');
  dots(ax,h2RedX,h2RedY,'#f00',4,'v-remaining-point');
  lamText(ax.g,1263,515,'1','3','47.19');
  txt(C3.x+C3.w/2,588,'V3(km/s)',16,'middle',ax.g,'x-axis-title');
  ylabel(1166,R1.y+R1.h/2,'V1(km/s)',ax.g,'y-axis-title');
  hodoLegend(ax.g,1564,91,112);
})();

// ---------------- Row 2 ----------------
const R2={y:662,h:454};
(function(){
  const xt=[-50,0,50,100,150], yt=[-50,0,50,100,150];
  const ax=axes({name:'walen-test-chart',x:C1.x,y:R2.y,w:C1.w,h:R2.h,xd:[-66.5,183.6],yd:[-66.7,184],xt:xt,xl:xt.map(fmtMinus),yt:yt,yl:yt.map(fmtMinus),title:'WalenTest',xlo:21});
  const fitX=[-66.5,183.6];
  const slope=0.721;
  mk('line',{x1:ax.sx(fitX[0]),y1:ax.sy(fitX[0]*slope),x2:ax.sx(fitX[1]),y2:ax.sy(fitX[1]*slope),stroke:'#000','stroke-width':1.5,'stroke-dasharray':'8,6'},ax.plot,'regression-line',false);
  dots(ax,walRedX,walRedY,'#f00',5.5,'walen-point-red');
  dots(ax,walGreenX,walGreenY,'#008000',5.5,'walen-point-green');
  dots(ax,walBlueX,walBlueY,'#00f',5.5,'walen-point-blue');
  const box=mk('g',{},ax.g,'fit-stats-box',false);
  mk('rect',{x:125,y:668,width:138,height:73,fill:'#fff',stroke:'#000','stroke-width':2},box,'fit-stats-frame',false);
  txt(129,688,'slope = 0.721',17,'start',box,'slope-label');
  const t2=txt(129,711,'',17,'start',box,'r-label');
  const a=mk('tspan',{'font-style':'italic','font-family':'DejaVu Serif, serif'},t2,'r-symbol',false);a.textContent='r';
  const b=mk('tspan',{},t2,'r-value',false);b.textContent=' = 0.995';
  const t3=txt(129,734,'',17,'start',box,'alfven-mach-label');
  const c=mk('tspan',{'font-style':'italic','font-family':'DejaVu Serif, serif'},t3,'ma-symbol',false);c.textContent='M';
  const d=mk('tspan',{'font-size':11,dy:4,'font-style':'italic'},t3,'ma-sub',false);d.textContent='A';
  const e=mk('tspan',{dy:-4},t3,'ma-value',false);e.textContent=' = 0.727';
  const xl=txt(C1.x+C1.w/2,1165,'V',16,'middle',ax.g,'x-axis-title');
  const xs=mk('tspan',{'font-size':11,dy:4,'font-style':'italic'},xl,'x-axis-title-sub',false);xs.textContent='A';
  const xs2=mk('tspan',{dy:-4},xl,'x-axis-title-unit',false);xs2.textContent='(km/s)';
  const yl=ylabel(52,R2.y+R2.h/2,'',ax.g,'y-axis-title');
  const y1=mk('tspan',{},yl,'y-axis-title-v',false);y1.textContent='V';
  const y2=mk('tspan',{'font-size':10,dy:3,'font-style':'italic','font-family':'DejaVu Serif, serif'},yl,'y-axis-title-sub',false);y2.textContent='remaining';
  const y3=mk('tspan',{dy:-3},yl,'y-axis-title-unit',false);y3.textContent='(km/s)';
})();
function subTitle(ax,x,y,pre,post){
  const t=txt(x,y,pre,21,'middle',ax.g,'chart-title');
  const s=mk('tspan',{'font-size':13,dy:5,'font-style':'italic','font-family':'DejaVu Serif, serif'},t,'chart-title-sub',false);s.textContent='remaining';
  const p=mk('tspan',{dy:-5},t,'chart-title-rest',false);p.textContent=post;
}
(function(){
  const xt=range(-60,80,20), yt=range(-60,80,20);
  const ax=axes({name:'hodogram-v2-v1-mvav',x:C2.x,y:R2.y,w:C2.w,h:R2.h,xd:[-60,80],yd:[-60,80],xt:xt,xl:xt.map(fmtMinus),yt:yt,yl:yt.map(fmtMinus),grid:true,xlo:21});
  subTitle(ax,C2.x+C2.w/2,R2.y-9,'Hodogram (V2_V1 MVAV',' frame)');
  polyline(ax,h3X,h3Y,'#00f',1.5,'hodogram-line');
  dots(ax,h3X,h3Y,'#00f',4,'hodogram-point');
  lamText(ax.g,686,1092,'1','2','1.95');
  txt(C2.x+C2.w/2,1165,'V2(km/s)',16,'middle',ax.g,'x-axis-title');
  ylabel(612,R2.y+R2.h/2,'V1(km/s)',ax.g,'y-axis-title');
})();
(function(){
  const xt=range(-180,-60,20), yt=range(-60,80,20);
  const ax=axes({name:'hodogram-v3-v1-mvav',x:C3.x,y:R2.y,w:C3.w,h:R2.h,xd:[-185.7,-44.7],yd:[-60,80],xt:xt,xl:xt.map(fmtMinus),yt:yt,yl:yt.map(fmtMinus),grid:true,xlo:21});
  subTitle(ax,C3.x+C3.w/2,R2.y-9,'Hodogram (V3_V1 MVAV',' frame)');
  polyline(ax,h4X,h4Y,'#00f',1.5,'hodogram-line');
  dots(ax,h4X,h4Y,'#00f',4,'hodogram-point');
  lamText(ax.g,1263,1092,'1','3','57.28');
  txt(C3.x+C3.w/2,1165,'V3(km/s)',16,'middle',ax.g,'x-axis-title');
  ylabel(1166,R2.y+R2.h/2,'V1(km/s)',ax.g,'y-axis-title');
})();

// ---------------- Time series ----------------
const TS={x:117,w:1566,h:222};
function tsAxes(name,top,yd,yt,yl,title){
  return axes({name:name,x:TS.x,y:top,w:TS.w,h:TS.h,xd:[0,184],yd:yd,xt:timeTickT,xl:timeTickLabels,yt:yt,yl:yl,title:title,xlo:22});
}
function tsLegend(parent,x,y,w,names,colors){
  const lg=mk('g',{},parent,'legend',false);
  const h=names.length*21+11;
  mk('rect',{x:x,y:y,width:w,height:h,fill:'#fff',stroke:'#000','stroke-width':2},lg,'legend-box',false);
  names.forEach((n,i)=>{
    const cy=y+13+i*21;
    mk('line',{x1:x+10,y1:cy,x2:x+32,y2:cy,stroke:colors[i],'stroke-width':2.5},lg,'legend-swatch',false);
    txt(x+47,cy+5,n,14,'start',lg,'legend-entry');
  });
}
function zeroLine(ax){
  mk('line',{x1:TS.x,y1:ax.sy(0),x2:TS.x+TS.w,y2:ax.sy(0),stroke:'#000','stroke-width':1.3,'stroke-dasharray':'9,6'},ax.plot,'zero-line',false);
}
// RTN B
(function(){
  const yt=range(-150,100,50);
  const ax=tsAxes('magnetic-field-rtn-chart',1305,[-150,100],yt,yt.map(fmtMinus),'Magnetic Field (RTN Frame)');
  zeroLine(ax);
  polyline(ax,brT,brV,'#f00',2,'br-line');
  polyline(ax,btT,btV,'#008000',2,'bt-line');
  polyline(ax,bnT,bnV,'#00f',2,'bn-line');
  ylabel(46,1305+111,'B(nT)',ax.g,'y-axis-title');
  tsLegend(ax.g,1604,1311,72,['Br','Bt','Bn'],['#f00','#008000','#00f']);
})();
// Flux rope B
(function(){
  const yt=range(-40,120,20);
  const ax=tsAxes('magnetic-field-flux-rope-chart',1639,[-40,120],yt,yt.map(fmtMinus),'Magnetic Field (Flux Rope Frame)');
  zeroLine(ax);
  polyline(ax,bxT,bxV,'#f00',2,'bx-line');
  polyline(ax,byT,byV,'#008000',2,'by-line');
  polyline(ax,bzT,bzV,'#00f',2,'bz-line');
  polyline(ax,bmagT,bmagV,'#000',2.2,'b-magnitude-line');
  ylabel(46,1639+111,'B(nT)',ax.g,'y-axis-title');
  tsLegend(ax.g,1601,1646,75,["Bx'","By'","Bz'",'|B|'],['#f00','#008000','#00f','#000']);
})();
// Velocity
(function(){
  const yt=range(-100,500,100);
  const ax=tsAxes('solar-wind-velocity-chart',1972,[-100,500],yt,yt.map(fmtMinus),'Solar Wind Velocity (RTN Frame)');
  polyline(ax,vrT,vrV,'#f00',2,'vr-line');
  polyline(ax,vtT,vtV,'#008000',2,'vt-line');
  polyline(ax,vnT,vnV,'#00f',2,'vn-line');
  ylabel(46,1972+111,'Vsw(km/s)',ax.g,'y-axis-title');
  tsLegend(ax.g,1604,1978,72,['Vr','Vt','Vn'],['#f00','#008000','#00f']);
})();
// Beta
(function(){
  const yt=[0.05,0.06,0.07,0.08,0.09,0.10];
  const ax=tsAxes('plasma-beta-chart',2306,[0.05,0.10],yt,yt.map(v=>v.toFixed(2)),'Plasma Beta');
  polyline(ax,betaT,betaV,'#00f',1.5,'beta-line');
  const yl=ylabel(46,2306+111,'',ax.g,'y-axis-title');
  const a=mk('tspan',{'font-style':'italic','font-family':'DejaVu Serif, serif'},yl,'beta-symbol',false);a.textContent='\u03b2';
  const b=mk('tspan',{'font-size':11,dy:3,'font-style':'italic'},yl,'beta-sub',false);b.textContent='p';
})();
// Density
(function(){
  const yt=range(140,200,10);
  const ax=tsAxes('proton-density-chart',2639,[140,200],yt,yt.map(String),'Proton Number Density');
  polyline(ax,npT,npV,'#00f',1.5,'density-line');
  ylabel(46,2639+111,'Np(#/cc)',ax.g,'y-axis-title');
})();
// Temperature
(function(){
  const yt=[0.10,0.11,0.12,0.13,0.14,0.15,0.16,0.17];
  const ax=tsAxes('proton-temperature-chart',2972,[0.10,0.17],yt,yt.map(v=>v.toFixed(2)),'');
  polyline(ax,tpT,tpV,'#00f',1.5,'temperature-line');
  const t=txt(TS.x+TS.w/2,2963,'Proton Temperature and ',21,'middle',ax.g,'chart-title');
  const a=mk('tspan',{'font-style':'italic','font-family':'DejaVu Serif, serif'},t,'te-symbol',false);a.textContent='T';
  const b=mk('tspan',{'font-size':13,dy:4,'font-style':'italic'},t,'te-sub',false);b.textContent='e';
  const c=mk('tspan',{dy:-4,'font-style':'italic','font-family':'DejaVu Serif, serif'},t,'tp-symbol',false);c.textContent='/T';
  const d=mk('tspan',{'font-size':13,dy:4,'font-style':'italic'},t,'tp-sub',false);d.textContent='p';
  const yl=ylabel(46,2972+111,'Tp(10',ax.g,'y-axis-title');
  const s=mk('tspan',{'font-size':10,dy:-6},yl,'y-axis-title-sup',false);s.textContent='6';
  const s2=mk('tspan',{dy:6},yl,'y-axis-title-unit',false);s2.textContent='K)';
  const lg=mk('g',{},ax.g,'legend',false);
  mk('rect',{x:123,y:2979,width:73,height:27,fill:'#fff',stroke:'#000','stroke-width':2},lg,'legend-box',false);
  mk('line',{x1:134,y1:2992,x2:155,y2:2992,stroke:'#00f','stroke-width':2.5},lg,'legend-swatch',false);
  txt(170,2997,'Tp',14,'start',lg,'legend-entry-tp');
})();
</script>
</body></html>
